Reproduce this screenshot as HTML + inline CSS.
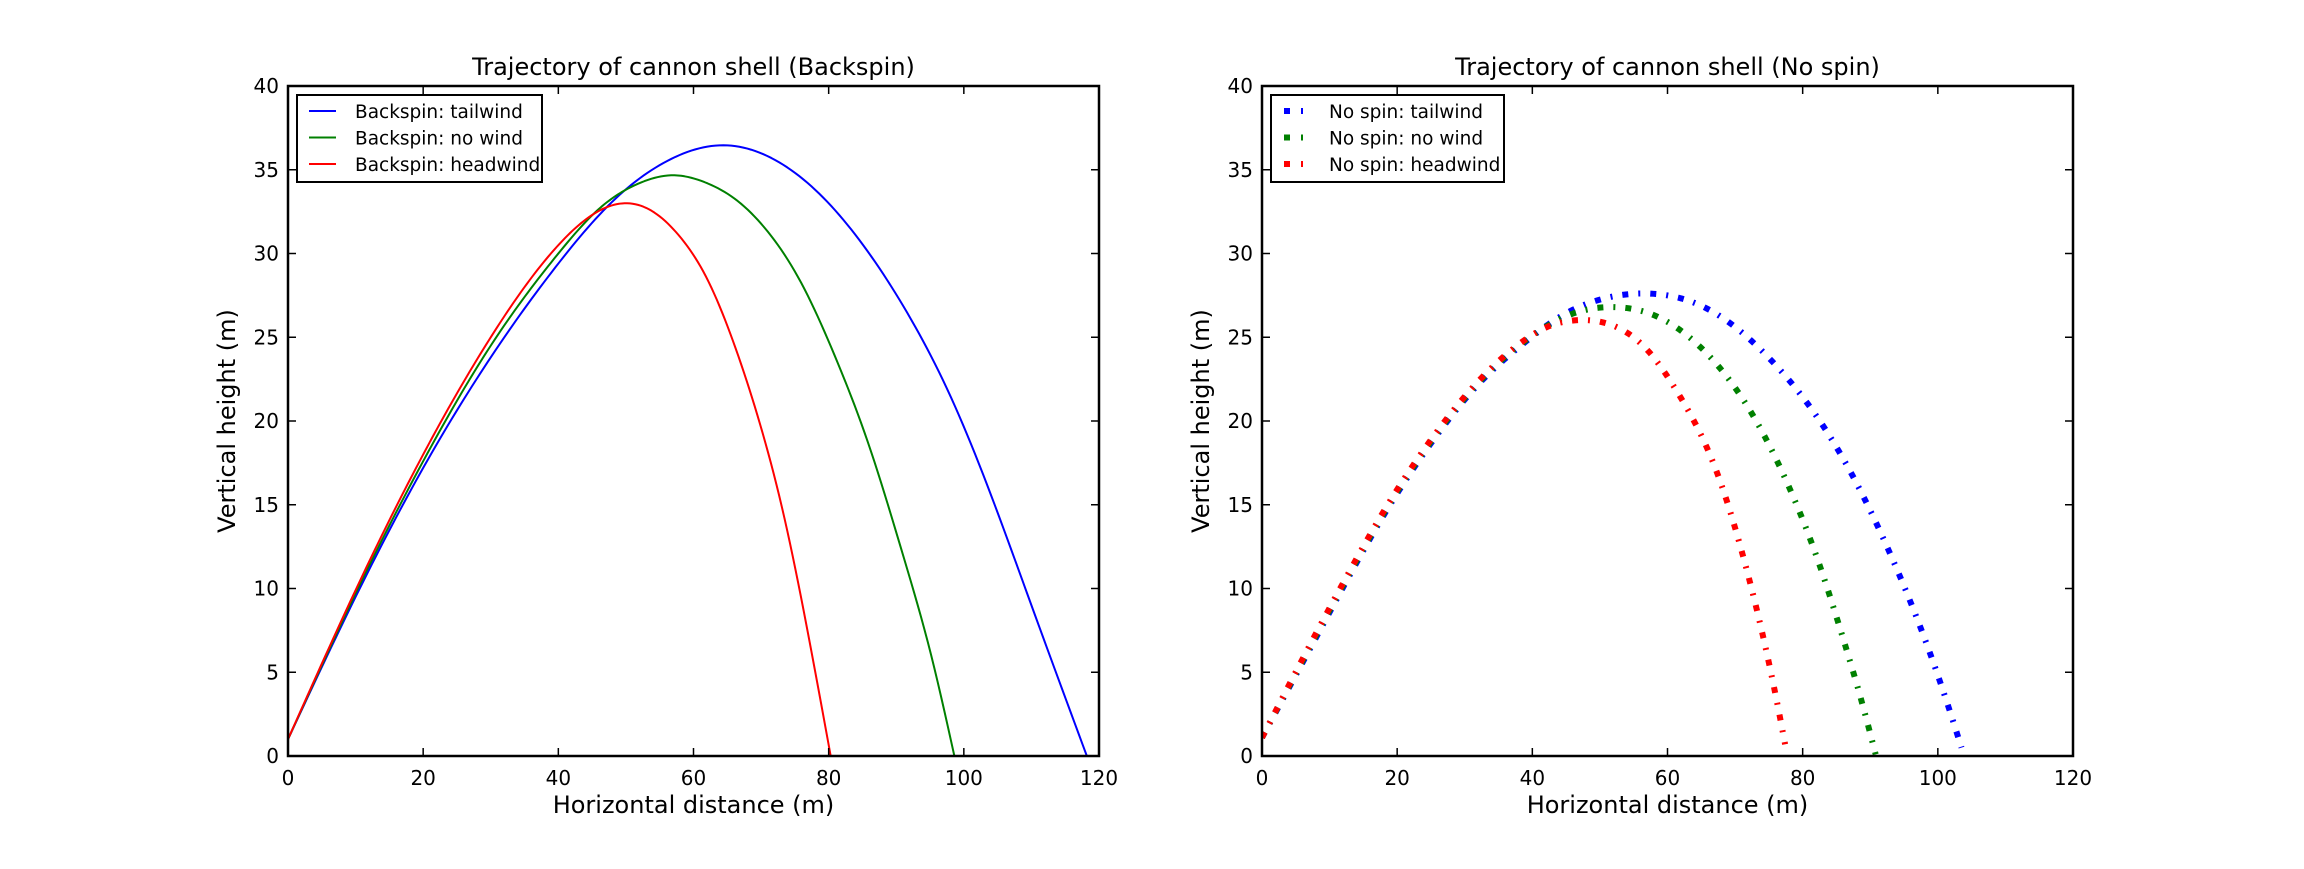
<!DOCTYPE html>
<html><head><meta charset="utf-8"><style>
html,body{margin:0;padding:0;background:#fff;}
svg text{font-family:"DejaVu Sans","Liberation Sans",sans-serif;fill:#000;}
</style></head><body>
<svg id="fig" width="2304" height="864" xmlns="http://www.w3.org/2000/svg"></svg>
<script>
const xTicks=[0,20,40,60,80,100,120];
const yTicks=[0,5,10,15,20,25,30,35,40];
const bsTailX=[0,10,20,30,40,48,56,64.2,72,80,86,92,98,104,110,118.2];
const bsTailY=[1,9.5,17.2,23.8,29.4,33.1,35.5,36.46,35.6,33.0,30.0,26.2,21.5,15.6,9.0,0];
const bsNoX=[0,10,20,30,40,46.4,52,56.8,62,66,71,76,81,86,91,95.3,98.6];
const bsNoY=[1,9.7,17.6,24.5,30,32.8,34.2,34.67,34.2,33.3,31.3,28.2,23.8,18.5,12,5.8,0];
const bsHeadX=[0,10,20,30,40,45,50.2,54,58,62,66,70,73.4,77,80.3];
const bsHeadY=[1,9.9,18,25,30.5,32.3,33,32.5,31,28.5,24.6,19.6,14.3,7.2,0];
const nsTailX=[0,7.9,13.8,17.9,24.7,32.5,38.6,44,49.6,57.7,65.9,75.4,80.8,87.3,92.7,97.5,101.6,103.5];
const nsTailY=[1.1,7.0,11.4,14.3,18.5,22.4,24.6,26.2,27.2,27.6,26.7,23.6,21,16.8,12.3,7.6,2.9,0.5];
const nsNoX=[0,7.8,13.7,17.8,24.6,32.4,38.5,45.9,52,58.1,64.9,72.4,78.1,82.5,86.3,88.7,90.8];
const nsNoY=[1.1,7.05,11.45,14.35,18.55,22.45,24.65,26.4,26.8,26.3,24.4,20.5,15.95,11.4,6.6,3.3,0.1];
const nsHeadX=[0,7.7,13.6,17.7,24.5,32.3,38.4,42.1,46,50.3,57.1,61.8,67.3,71,74.05,76.6,77.4];
const nsHeadY=[1.1,7.1,11.5,14.4,18.6,22.5,24.7,25.6,26,25.9,24.2,21.5,16.95,12.2,7.3,2.4,0.7];

const NS="http://www.w3.org/2000/svg";
const svg=document.getElementById('fig');
function mk(tag,attrs,parent){const e=document.createElementNS(NS,tag);for(const k in attrs)e.setAttribute(k,attrs[k]);(parent||svg).appendChild(e);return e;}
function spline(xs,ys){
  const n=xs.length,h=[],al=[0],l=[1],mu=[0],z=[0],c=new Array(n).fill(0),b=[],d=[];
  for(let i=0;i<n-1;i++)h.push(xs[i+1]-xs[i]);
  for(let i=1;i<n-1;i++)al.push(3/h[i]*(ys[i+1]-ys[i])-3/h[i-1]*(ys[i]-ys[i-1]));
  for(let i=1;i<n-1;i++){l[i]=2*(xs[i+1]-xs[i-1])-h[i-1]*mu[i-1];mu[i]=h[i]/l[i];z[i]=(al[i]-h[i-1]*z[i-1])/l[i];}
  for(let j=n-2;j>=1;j--){c[j]=z[j]-mu[j]*c[j+1];}
  for(let j=0;j<n-1;j++){b[j]=(ys[j+1]-ys[j])/h[j]-h[j]*(c[j+1]+2*c[j])/3;d[j]=(c[j+1]-c[j])/(3*h[j]);}
  return x=>{let j=0;while(j<n-2&&x>xs[j+1])j++;const t=x-xs[j];return ys[j]+b[j]*t+c[j]*t*t+d[j]*t*t*t;};
}
const T=86,B=756;
function panel(L,R,title,series,legendNames,dashed,prefix){
  const g=mk('g',{});
  
  
  const sx=v=>L+(v/120)*(R-L), sy=v=>B-(v/40)*(B-T);
  const cid='clip-'+prefix;
  const cp=mk('clipPath',{id:cid},g);mk('rect',{x:L,y:T,width:R-L,height:B-T},cp);
  series.forEach((s,i)=>{
    const f=spline(s.x,s.y);
    const x0=s.x[0],x1=s.x[s.x.length-1];
    let d='';
    const N=200;
    for(let k=0;k<=N;k++){const xv=x0+(x1-x0)*k/N;d+=(k?'L':'M')+sx(xv).toFixed(2)+','+sy(f(xv)).toFixed(2);}
    const a={d:d,fill:'none',stroke:s.c,'clip-path':'url(#'+cid+')','stroke-linejoin':'round'};
    if(dashed){a['stroke-width']=6;a['stroke-dasharray']='6,10,2,10';}else a['stroke-width']=2;
    const p=mk('path',a,g);
    
    
  });
  mk('rect',{x:L,y:T,width:R-L,height:B-T,fill:'none',stroke:'#000','stroke-width':2.5},g);
  xTicks.forEach(v=>{const x=sx(v);
    mk('line',{x1:x,y1:B,x2:x,y2:B-8,stroke:'#000','stroke-width':1.5},g);
    mk('line',{x1:x,y1:T,x2:x,y2:T+8,stroke:'#000','stroke-width':1.5},g);
    const t=mk('text',{x:x,y:B+29,'font-size':20,'text-anchor':'middle'},g);t.textContent=v;
    
    });
  yTicks.forEach(v=>{const y=sy(v);
    mk('line',{x1:L,y1:y,x2:L+8,y2:y,stroke:'#000','stroke-width':1.5},g);
    mk('line',{x1:R,y1:y,x2:R-8,y2:y,stroke:'#000','stroke-width':1.5},g);
    const t=mk('text',{x:L-9,y:y+7,'font-size':20,'text-anchor':'end'},g);t.textContent=v;
    
    });
  let t=mk('text',{x:(L+R)/2,y:75,'font-size':24,'text-anchor':'middle'},g);t.textContent=title;
  
  
  t=mk('text',{x:(L+R)/2,y:813,'font-size':24,'text-anchor':'middle'},g);t.textContent='Horizontal distance (m)';
  
  
  t=mk('text',{x:0,y:0,'font-size':24,'text-anchor':'middle',transform:'translate('+(L-53)+','+((T+B)/2)+') rotate(-90)'},g);t.textContent='Vertical height (m)';
  
  
  const lg=mk('g',{},g);
  
  
  const lw=dashed?233:245;
  mk('rect',{x:L+9,y:95,width:lw,height:87,fill:'#fff',stroke:'#000','stroke-width':2},lg);
  series.forEach((s,i)=>{const y=111+i*26.5;
    if(dashed){mk('rect',{x:L+22,y:y-3,width:6,height:6,fill:s.c},lg);mk('rect',{x:L+39,y:y-3,width:2,height:6,fill:s.c},lg);}
    else mk('line',{x1:L+21,y1:y,x2:L+48,y2:y,stroke:s.c,'stroke-width':2},lg);
    const tt=mk('text',{x:L+67,y:y+7,'font-size':18.5},lg);tt.textContent=legendNames[i];
    
    });
}
panel(288,1099,'Trajectory of cannon shell (Backspin)',
  [{x:bsTailX,y:bsTailY,c:'#0000ff'},{x:bsNoX,y:bsNoY,c:'#008000'},{x:bsHeadX,y:bsHeadY,c:'#ff0000'}],
  ['Backspin: tailwind','Backspin: no wind','Backspin: headwind'],false,'backspin');
panel(1262,2073,'Trajectory of cannon shell (No spin)',
  [{x:nsTailX,y:nsTailY,c:'#0000ff'},{x:nsNoX,y:nsNoY,c:'#008000'},{x:nsHeadX,y:nsHeadY,c:'#ff0000'}],
  ['No spin: tailwind','No spin: no wind','No spin: headwind'],true,'nospin');
</script>
</body></html>
